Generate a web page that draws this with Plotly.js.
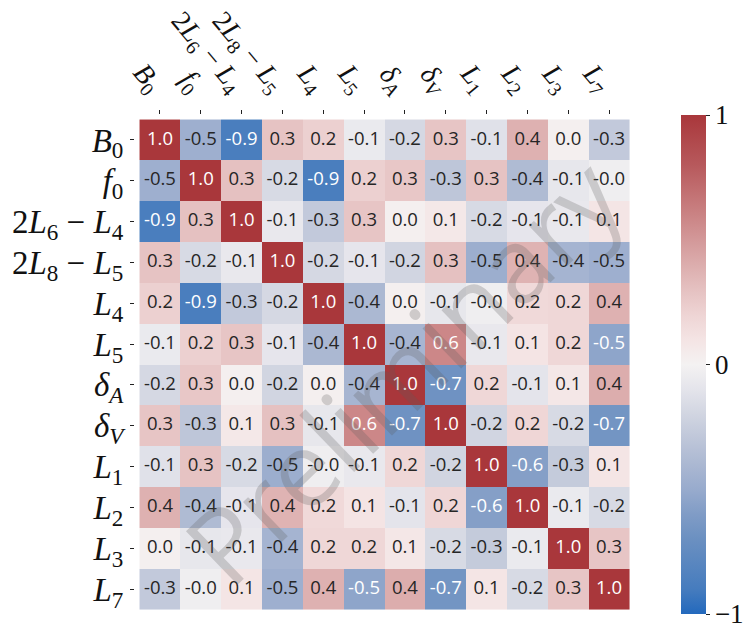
<!DOCTYPE html>
<html>
<head>
<meta charset="utf-8">
<script src="https://cdn.plot.ly/plotly-3.0.1.min.js"></script>
<style>html,body{margin:0;padding:0;background:#fff;}#chart{width:744px;height:629px;}</style>
</head>
<body>
<div id="chart"></div>
<script>
const labels = [
  "<i>B</i><sub>0</sub>",
  "<i>f</i><sub>0</sub>",
  "2<i>L</i><sub>6</sub> − <i>L</i><sub>4</sub>",
  "2<i>L</i><sub>8</sub> − <i>L</i><sub>5</sub>",
  "<i>L</i><sub>4</sub>",
  "<i>L</i><sub>5</sub>",
  "<i>δ</i><sub><i>A</i></sub>",
  "<i>δ</i><sub><i>V</i></sub>",
  "<i>L</i><sub>1</sub>",
  "<i>L</i><sub>2</sub>",
  "<i>L</i><sub>3</sub>",
  "<i>L</i><sub>7</sub>"
];

const corr = [
  [ 1.00, -0.47, -0.88,  0.29,  0.22, -0.06, -0.18,  0.28, -0.12,  0.38,  0.02, -0.28],
  [-0.47,  1.00,  0.30, -0.17, -0.88,  0.22,  0.27, -0.30,  0.29, -0.38, -0.08, -0.03],
  [-0.88,  0.30,  1.00, -0.07, -0.28,  0.28,  0.02,  0.07, -0.17, -0.09, -0.07,  0.09],
  [ 0.29, -0.17, -0.07,  1.00, -0.18, -0.09, -0.20,  0.30, -0.48,  0.37, -0.43, -0.47],
  [ 0.22, -0.88, -0.28, -0.18,  1.00, -0.40,  0.02, -0.08, -0.03,  0.17,  0.18,  0.38],
  [-0.06,  0.22,  0.28, -0.09, -0.40,  1.00, -0.42,  0.58, -0.07,  0.10,  0.18, -0.54],
  [-0.18,  0.27,  0.02, -0.20,  0.02, -0.42,  1.00, -0.68,  0.18, -0.10,  0.08,  0.40],
  [ 0.28, -0.30,  0.07,  0.30, -0.08,  0.58, -0.68,  1.00, -0.20,  0.19, -0.17, -0.66],
  [-0.12,  0.29, -0.17, -0.48, -0.03, -0.07,  0.18, -0.20,  1.00, -0.58, -0.27,  0.09],
  [ 0.38, -0.38, -0.09,  0.37,  0.17,  0.10, -0.10,  0.19, -0.58,  1.00, -0.06, -0.17],
  [ 0.02, -0.08, -0.07, -0.43,  0.18,  0.18,  0.08, -0.17, -0.27, -0.06,  1.00,  0.28],
  [-0.28, -0.03,  0.09, -0.47,  0.38, -0.54,  0.40, -0.66,  0.09, -0.17,  0.28,  1.00]
];

const cbTickVals = [-1, 0, 1];
const cbTickText = ["−1", "0", "1"];
const watermark = "Preliminary";

// vlag-like diverging colormap
const cscale = [
  [0.00, [35,105,189]],
  [0.05, [70,124,190]],
  [0.15, [107,144,193]],
  [0.20, [128,156,198]],
  [0.25, [152,171,205]],
  [0.30, [171,184,210]],
  [0.35, [190,198,217]],
  [0.40, [209,213,225]],
  [0.45, [228,228,235]],
  [0.50, [244,242,242]],
  [0.55, [244,228,228]],
  [0.60, [238,212,212]],
  [0.65, [229,193,193]],
  [0.70, [220,173,173]],
  [0.75, [211,152,153]],
  [0.80, [202,131,132]],
  [0.85, [193,110,112]],
  [0.90, [183,89,92]],
  [1.00, [169,55,59]]
];
const plotlyScale = cscale.map(s => [s[0], 'rgb(' + s[1].join(',') + ')']);

function colorAt(v) {
  const p = Math.max(0, Math.min(1, (v + 1) / 2));
  for (let k = 1; k < cscale.length; k++) {
    if (p <= cscale[k][0]) {
      const a = cscale[k-1], b = cscale[k];
      const f = (p - a[0]) / (b[0] - a[0]);
      return a[1].map((c, i) => c + f * (b[1][i] - c));
    }
  }
  return cscale[cscale.length-1][1];
}
function lum(rgb) {
  const l = rgb.map(c => { c /= 255; return c <= 0.03928 ? c / 12.92 : Math.pow((c + 0.055) / 1.055, 2.4); });
  return 0.2126 * l[0] + 0.7152 * l[1] + 0.0722 * l[2];
}

const tx = [], ty = [], tt = [], tc = [];
for (let i = 0; i < labels.length; i++) {
  for (let j = 0; j < labels.length; j++) {
    const v = corr[i][j];
    tx.push(labels[j]); ty.push(labels[i]);
    tt.push(v.toFixed(1));
    tc.push(lum(colorAt(v)) > 0.408 ? 'rgb(38,38,38)' : 'rgb(255,255,255)');
  }
}

const heat = {
  type: 'heatmap',
  x: labels, y: labels, z: corr,
  zmin: -1, zmax: 1,
  colorscale: plotlyScale,
  hoverinfo: 'skip',
  colorbar: {
    x: 1.094, xanchor: 'left', y: 0.5, yanchor: 'middle',
    len: 1, lenmode: 'fraction', thickness: 25, thicknessmode: 'pixels',
    xpad: 0, ypad: 0, outlinewidth: 0,
    ticks: 'outside', ticklen: 4, tickcolor: '#222',
    ticklabeloverflow: 'allow',
    tickvals: cbTickVals, ticktext: cbTickText,
    tickfont: {family: 'Liberation Serif', size: 27, color: '#111'}
  }
};

const txt = {
  type: 'scatter', mode: 'text',
  x: tx, y: ty, text: tt,
  textposition: 'middle center',
  textfont: {family: 'Open Sans', size: 18.5, color: tc},
  hoverinfo: 'skip', showlegend: false
};

const layout = {
  width: 744, height: 629,
  margin: {l: 135, r: 110, t: 115, b: 15, autoexpand: false},
  paper_bgcolor: '#fff', plot_bgcolor: '#fff',
  showlegend: false,
  xaxis: {
    type: 'category', side: 'top', tickangle: 50,
    tickmode: 'linear', tick0: 0, dtick: 1,
    showgrid: false, zeroline: false, showline: false,
    ticks: 'outside', ticklen: 4, tickcolor: '#222',
    tickfont: {family: 'Liberation Serif', size: 28, color: '#111'},
    automargin: false
  },
  yaxis: {
    type: 'category', autorange: 'reversed',
    tickmode: 'linear', tick0: 0, dtick: 1,
    showgrid: false, zeroline: false, showline: false,
    ticks: 'outside', ticklen: 4, tickcolor: '#222',
    tickfont: {family: 'Liberation Serif', size: 33, color: '#111'},
    automargin: false
  },
  annotations: [{
    xref: 'paper', yref: 'paper', x: 0.535, y: 0.49,
    text: watermark, showarrow: false, textangle: -44,
    font: {family: 'Open Sans', size: 104, color: 'rgba(90,90,90,0.25)'}
  }]
};

Plotly.newPlot('chart', [heat, txt], layout, {staticPlot: true, displayModeBar: false});
</script>
</body>
</html>
